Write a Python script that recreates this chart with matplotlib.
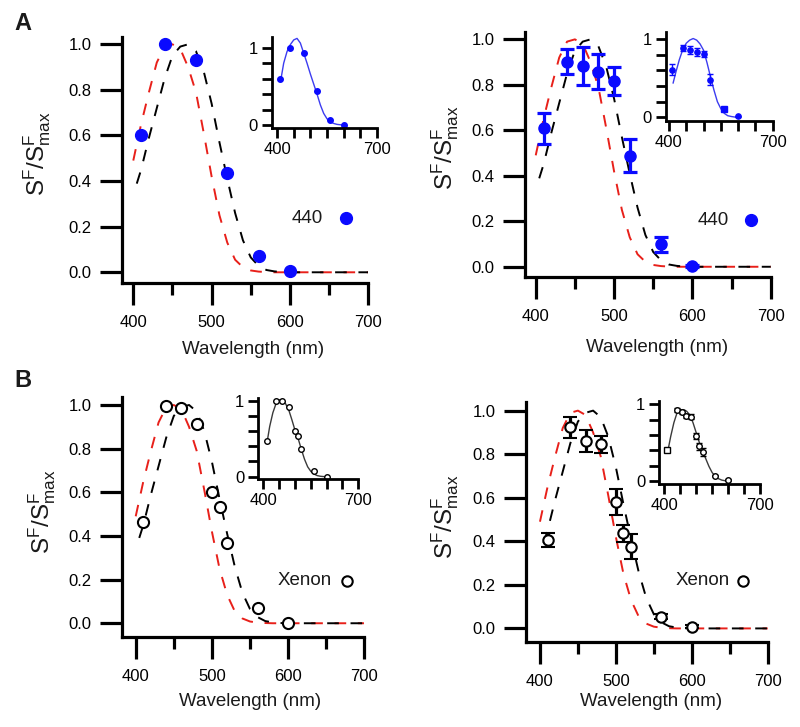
import matplotlib
matplotlib.use("Agg")
import matplotlib.pyplot as plt
from matplotlib.ticker import FixedLocator, NullFormatter

plt.rcParams['font.family'] = ['Liberation Sans', 'DejaVu Sans']
plt.rcParams['text.color'] = '#1a1a1a'

# template curves (same in every panel)
curve_wl = [400, 410, 420, 430, 440, 450, 460, 470, 480, 490, 500, 510, 520,
            530, 540, 550, 560, 570, 580, 590, 600, 650, 700]
red_curve = [0.49, 0.65, 0.79, 0.92, 0.99, 1.00, 0.98, 0.90, 0.79, 0.61, 0.42, 0.25, 0.13,
             0.055, 0.022, 0.008, 0.003, 0.001, 0.0, 0.0, 0.0, 0.0, 0.0]
black_curve = [0.34, 0.45, 0.59, 0.72, 0.85, 0.95, 0.99, 1.00, 0.97, 0.88, 0.74, 0.57, 0.41,
               0.26, 0.14, 0.065, 0.028, 0.01, 0.004, 0.001, 0.0, 0.0, 0.0]

# panel A left: 440 nm, single cell
a1_wl = [410, 440, 480, 520, 560, 600]
a1_val = [0.60, 1.00, 0.93, 0.435, 0.07, 0.006]
# panel A right: 440 nm, mean +- sem
a2_wl = [410, 440, 460, 480, 500, 520, 560, 600]
a2_val = [0.608, 0.902, 0.883, 0.858, 0.817, 0.488, 0.098, 0.003]
a2_err = [0.07, 0.055, 0.085, 0.078, 0.06, 0.072, 0.032, 0.005]
# panel B left: xenon, single cell
b1_wl = [410, 440, 460, 480, 500, 510, 520, 560, 600]
b1_val = [0.463, 0.995, 0.988, 0.911, 0.60, 0.534, 0.369, 0.072, 0.0]
# panel B right: xenon, mean +- sem
b2_wl = [410, 440, 460, 480, 500, 510, 520, 560, 600]
b2_val = [0.406, 0.923, 0.861, 0.845, 0.582, 0.436, 0.375, 0.054, 0.008]
b2_err = [0.03, 0.048, 0.05, 0.04, 0.06, 0.04, 0.058, 0.012, 0.006]

# insets
fit_wl = [412, 420, 430, 440, 450, 460, 470, 480, 490, 500, 510, 520, 530,
          540, 550, 560, 570, 580, 590, 600]
ia1_fit = [0.60, 0.80, 0.95, 1.04, 1.10, 1.12, 1.06, 0.93, 0.80, 0.66, 0.53, 0.40, 0.26,
           0.15, 0.08, 0.04, 0.02, 0.008, 0.003, 0.0]
ia2_wl = [410, 440, 460, 480, 500, 520, 560, 600]
ia2_val = [0.61, 0.885, 0.86, 0.84, 0.81, 0.48, 0.10, 0.01]
ia2_err = [0.07, 0.04, 0.05, 0.05, 0.04, 0.07, 0.02, 0.01]
ia2_mk = ['o', 'o', 'o', 'o', 'o', 'o', 's', 'o']
ia2_fit = [0.44, 0.58, 0.74, 0.87, 0.95, 0.99, 1.01, 0.99, 0.94, 0.86, 0.70, 0.52, 0.35,
           0.20, 0.11, 0.05, 0.02, 0.01, 0.003, 0.0]
ib1_fit = [0.46, 0.66, 0.84, 0.96, 1.01, 1.01, 0.96, 0.88, 0.75, 0.61, 0.50, 0.36, 0.23,
           0.13, 0.07, 0.035, 0.015, 0.006, 0.002, 0.0]
ib2_wl = [410, 440, 455, 467, 483, 500, 510, 520, 560, 600]
ib2_val = [0.41, 0.925, 0.90, 0.85, 0.84, 0.59, 0.45, 0.38, 0.07, 0.01]
ib2_err = [0.0, 0.03, 0.02, 0.03, 0.03, 0.04, 0.04, 0.05, 0.01, 0.01]
ib2_mk = ['s', 'o', 'o', 'o', 'o', 'o', 'o', 'o', 'o', 'o']
ib2_fit = [0.41, 0.58, 0.76, 0.89, 0.93, 0.93, 0.91, 0.86, 0.76, 0.63, 0.50, 0.39, 0.29,
           0.19, 0.11, 0.06, 0.03, 0.012, 0.004, 0.0]

BLUE = '#0a0aff'
W, H = 800, 727


def box(l, r, t, b):
    return [l / W, 1 - b / H, (r - l) / W, (b - t) / H]


fig = plt.figure(figsize=(8, 7.27), dpi=100)


def main_axes(l, r, t, b, xlo, ylo, yhi):
    ax = fig.add_axes(box(l, r, t, b))
    ax.set_xlim(xlo, 700)
    ax.set_ylim(ylo, yhi)
    for s in ['top', 'right']:
        ax.spines[s].set_visible(False)
    for s in ['left', 'bottom']:
        ax.spines[s].set_linewidth(2.3)
    ax.xaxis.set_major_locator(FixedLocator([400, 500, 600, 700]))
    ax.xaxis.set_minor_locator(FixedLocator([450, 550, 650]))
    ax.yaxis.set_major_locator(FixedLocator([0, 0.2, 0.4, 0.6, 0.8, 1.0]))
    ax.set_yticklabels(['0.0', '0.2', '0.4', '0.6', '0.8', '1.0'])
    ax.tick_params(which='major', length=16, width=2.3, labelsize=12, pad=6)
    ax.tick_params(which='minor', length=8.5, width=2.3)
    ax.tick_params(axis='x', pad=7)
    ax.plot(curve_wl, red_curve, color='#e8201a', lw=1.4, linestyle=(0, (6, 6)), zorder=2)
    ax.plot(curve_wl, black_curve, color='black', lw=1.4, linestyle=(6, (6, 6)), zorder=2)
    return ax


def inset_axes(l, r, t, b, xlo, ylo, yhi):
    ax = fig.add_axes(box(l, r, t, b))
    ax.set_xlim(xlo, 700)
    ax.set_ylim(ylo, yhi)
    for s in ['top', 'right']:
        ax.spines[s].set_visible(False)
    for s in ['left', 'bottom']:
        ax.spines[s].set_linewidth(2.0)
    ax.xaxis.set_major_locator(FixedLocator([400, 700]))
    ax.xaxis.set_minor_locator(FixedLocator([450, 500, 550, 600, 650]))
    ax.yaxis.set_major_locator(FixedLocator([0, 1]))
    ax.yaxis.set_minor_locator(FixedLocator([0.2, 0.4, 0.6, 0.8]))
    ax.set_yticklabels(['0', '1'])
    ax.xaxis.set_minor_formatter(NullFormatter())
    ax.tick_params(which='both', length=7, width=2.0, labelsize=12, pad=3)
    ax.patch.set_alpha(0)
    return ax


# ---- A left
ax = main_axes(122, 368.3, 37, 283, 385.6, -0.047, 1.032)
ax.plot(a1_wl, a1_val, 'o', color=BLUE, ms=8.5, zorder=3)
ax.text(642, 0.237, '440', ha='right', va='center', fontsize=13.5)
ax.plot([672], [0.237], 'o', color=BLUE, ms=8.5)

ins = inset_axes(271.7, 377, 36.7, 128, 384, -0.039, 1.142)
ins.plot(fit_wl, ia1_fit, color='#3c3cf0', lw=1.0)
ins.plot(a1_wl, a1_val, 'o', color=BLUE, ms=4)

# ---- A right
ax = main_axes(525, 770.7, 32.3, 277, 386.3, -0.045, 1.031)
ax.errorbar(a2_wl, a2_val, yerr=a2_err, fmt='o', color=BLUE, ms=8, elinewidth=2.3,
            capsize=4.8, capthick=2.3, zorder=3)
ax.text(646, 0.205, '440', ha='right', va='center', fontsize=13.5)
ax.plot([675], [0.205], 'o', color=BLUE, ms=8.5)

ins = inset_axes(665.7, 772.7, 32.3, 120.7, 390.5, -0.044, 1.09)
ins.plot(fit_wl, ia2_fit, color='#3c3cf0', lw=1.0)
ins.errorbar(ia2_wl, ia2_val, yerr=ia2_err, fmt='none', ecolor=BLUE, elinewidth=1.0,
             capsize=2.5, capthick=1.0)
for x, y, m in zip(ia2_wl, ia2_val, ia2_mk):
    ins.plot([x], [y], m, color=BLUE, ms=3.8)

# ---- B left
ax = main_axes(122, 364.3, 396.7, 637, 382, -0.063, 1.038)
ax.plot(b1_wl, b1_val, 'o', mfc='white', mec='black', mew=1.5, ms=8, zorder=3)
ax.text(657, 0.195, 'Xenon', ha='right', va='center', fontsize=13.5)
ax.plot([677], [0.195], 'o', mfc='white', mec='black', mew=1.5, ms=7.5)

ins = inset_axes(258.3, 358.3, 398.3, 479, 384, -0.03, 1.03)
ins.plot(fit_wl, ib1_fit, color='#3a3a3a', lw=1.0)
ins.plot(b1_wl, b1_val, 'o', mfc='white', mec='black', mew=1.0, ms=4)

# ---- B right
ax = main_axes(526, 767.7, 401.7, 641.7, 381.6, -0.061, 1.041)
ax.errorbar(b2_wl, b2_val, yerr=b2_err, fmt='o', color='black', mfc='white', mec='black',
            mew=1.5, ms=7.5, elinewidth=2.3, capsize=5, capthick=2.3, zorder=3)
ax.text(650, 0.219, 'Xenon', ha='right', va='center', fontsize=13.5)
ax.plot([668], [0.219], 'o', mfc='white', mec='black', mew=1.5, ms=7.5)

ins = inset_axes(659.3, 760, 401, 484.3, 384.3, -0.043, 1.043)
ins.plot(fit_wl, ib2_fit, color='#3a3a3a', lw=1.0)
ins.errorbar(ib2_wl, ib2_val, yerr=ib2_err, fmt='none', ecolor='black', elinewidth=1.0,
             capsize=2.2, capthick=1.0)
for x, y, m in zip(ib2_wl, ib2_val, ib2_mk):
    ins.plot([x], [y], m, mfc='white', mec='black', mew=1.0, ms=4)

# labels
ylab = r'$\mathregular{S^F/S^F_{max}}$'
for x, y in [(37, 153.5), (445, 147.5), (42, 512), (445, 517)]:
    fig.text(x / W, 1 - y / H, ylab, rotation=90, ha='center', va='center', fontsize=17.5)
for x, y in [(253, 350), (657, 348), (250, 702), (651, 702)]:
    fig.text(x / W, 1 - y / H, 'Wavelength (nm)', ha='center', va='center', fontsize=13.5)

fig.text(23 / W, 1 - 23 / H, 'A', ha='center', va='center', fontsize=17, fontweight='bold')
fig.text(23 / W, 1 - 381 / H, 'B', ha='center', va='center', fontsize=17, fontweight='bold')

fig.savefig('out.png', dpi=100)
